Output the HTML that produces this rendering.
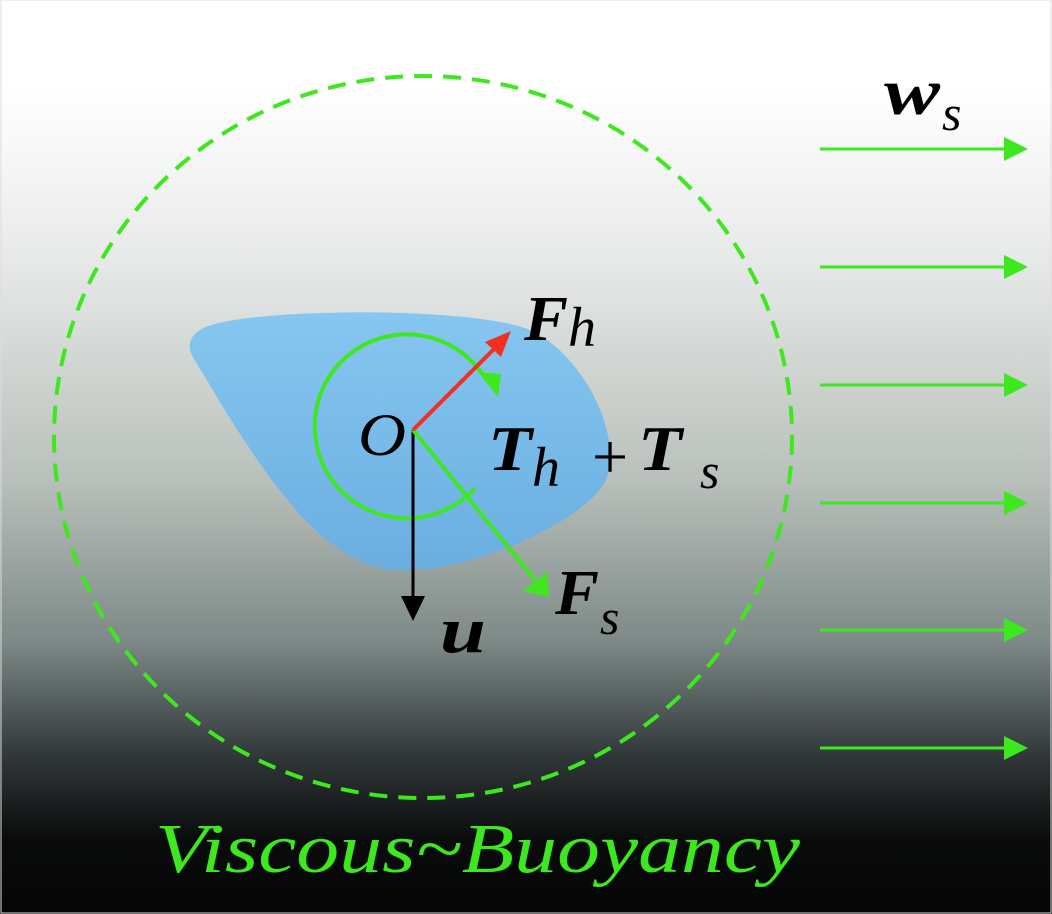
<!DOCTYPE html>
<html><head><style>
html,body{margin:0;padding:0}
body{width:1052px;height:914px;overflow:hidden;background:linear-gradient(to bottom,#fff 0px,#fff 90px,#e9ebea 250px,#b9c0bb 480px,#7e8a88 640px,#2f3537 760px,#0a0b0b 840px,#050505 914px)}
svg{position:absolute;left:0;top:0}
text{font-family:"Liberation Serif",serif}
</style></head><body>
<svg width="1052" height="914" viewBox="0 0 1052 914">
<defs>
<linearGradient id="bl" x1="0" y1="0" x2="0" y2="1"><stop offset="0" stop-color="#86c6f0"/><stop offset="1" stop-color="#6aaee0"/></linearGradient>
</defs>
<rect x="1" y="0" width="1050" height="913" fill="none" stroke="#ddd" stroke-width="1"/>
<ellipse cx="423" cy="437" rx="369" ry="361" fill="none" stroke="#3de81e" stroke-width="4" stroke-dasharray="18,11"/>
<path d="M200,330 C230,308 470,305 530,330 C585,355 625,440 605,482 C585,520 470,575 395,570 C320,565 260,470 196,362 C186,348 188,338 200,330 Z" fill="url(#bl)"/>
<path d="M475,488 A92,92 0 1 1 485,378" fill="none" stroke="#3de81e" stroke-width="4"/>
<path d="M478,372 L501,374 L498,397 Z" fill="#3de81e"/>
<line x1="413" y1="430" x2="413" y2="598" stroke="#000" stroke-width="3"/>
<path d="M401,596 L425,596 L413,621 Z" fill="#000"/>
<line x1="413" y1="430" x2="535" y2="580" stroke="#3de81e" stroke-width="4"/>
<path d="M523,591 L547,572 L549,597 Z" fill="#3de81e"/>
<line x1="413" y1="430" x2="498" y2="345" stroke="#f03020" stroke-width="4"/>
<path d="M485,342 L511,331 L501,357 Z" fill="#f03020"/>
<g stroke="#3de81e" stroke-width="3">
<line x1="820" y1="149" x2="1008" y2="149"/><line x1="820" y1="267" x2="1008" y2="267"/><line x1="820" y1="385" x2="1008" y2="385"/><line x1="820" y1="503" x2="1008" y2="503"/><line x1="820" y1="630" x2="1008" y2="630"/><line x1="820" y1="748" x2="1008" y2="748"/>
</g>
<g fill="#3de81e">
<path d="M1004,137 L1028,149 L1004,161Z"/><path d="M1004,255 L1028,267 L1004,279Z"/><path d="M1004,373 L1028,385 L1004,397Z"/><path d="M1004,491 L1028,503 L1004,515Z"/><path d="M1004,618 L1028,630 L1004,642Z"/><path d="M1004,736 L1028,748 L1004,760Z"/>
</g>
<g fill="#000">
<text x="884" y="114" font-size="66" font-style="italic" font-weight="bold" textLength="56" lengthAdjust="spacingAndGlyphs">w</text><text x="942" y="130" font-size="50" font-style="italic">s</text>
<text x="524" y="340" font-size="64" font-style="italic" font-weight="bold" textLength="44" lengthAdjust="spacingAndGlyphs">F</text><text x="568" y="346" font-size="56" font-style="italic">h</text>
<text x="358" y="455" font-size="60" font-style="italic" textLength="48" lengthAdjust="spacingAndGlyphs">O</text>
<text x="488" y="470" font-size="64" font-style="italic" font-weight="bold" textLength="44" lengthAdjust="spacingAndGlyphs">T</text><text x="532" y="486" font-size="56" font-style="italic">h</text>
<text x="592" y="478" font-size="64">+</text>
<text x="638" y="470" font-size="64" font-style="italic" font-weight="bold" textLength="44" lengthAdjust="spacingAndGlyphs">T</text><text x="700" y="488" font-size="50" font-style="italic">s</text>
<text x="555" y="614" font-size="64" font-style="italic" font-weight="bold" textLength="44" lengthAdjust="spacingAndGlyphs">F</text><text x="600" y="634" font-size="50" font-style="italic">s</text>
<text x="440" y="652" font-size="66" font-style="italic" font-weight="bold" textLength="46" lengthAdjust="spacingAndGlyphs">u</text>
</g>
<text x="155" y="872" font-size="70" font-style="italic" fill="#3de81e" textLength="645" lengthAdjust="spacingAndGlyphs" font-family="Liberation Sans">Viscous~Buoyancy</text>
</svg>
</body></html>
